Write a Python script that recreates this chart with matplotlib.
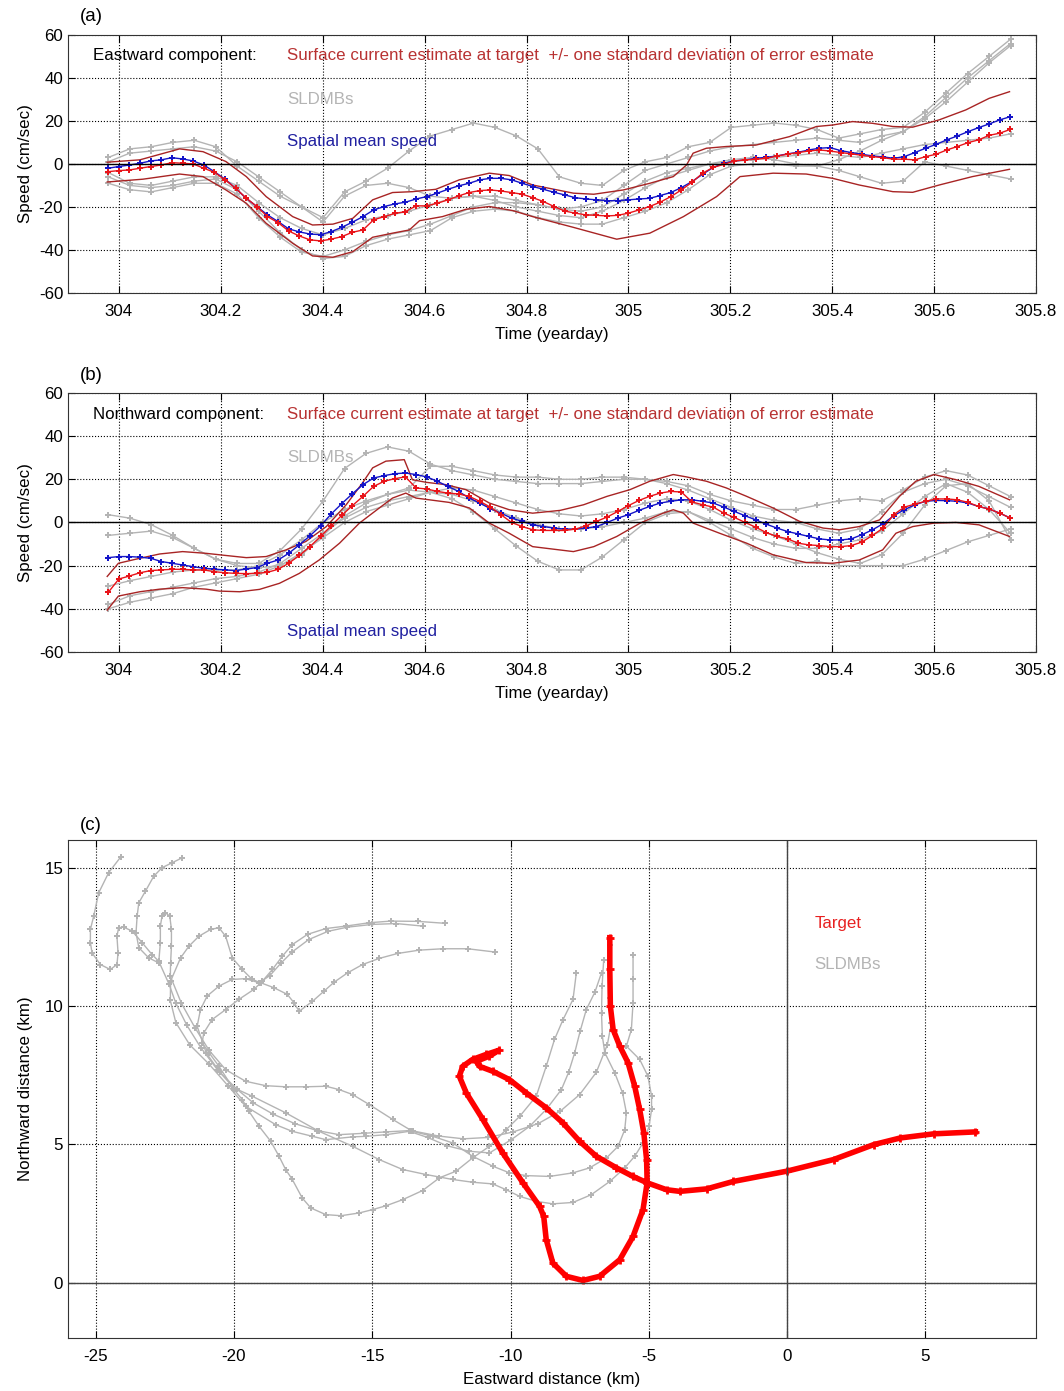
import numpy as np
import matplotlib
matplotlib.use("Agg")
import matplotlib.pyplot as plt

plt.rcParams['font.family'] = ['Liberation Sans', 'DejaVu Sans']
plt.rcParams['font.size'] = 12.2
plt.rcParams['axes.unicode_minus'] = False

# ---- time axes (yearday) ----
t_start = 303.979
t_step = 1 / 48
t_gray = np.linspace(303.979, 305.75, 43)

# ---- panel (a): eastward component ----
a_est = [-3.6, -3.1, -2.8, -2.0, -1.2, -0.5, 0.6, 0.3, 0.0, -2.0,
         -3.9, -7.4, -11.3, -15.9, -19.8, -24.5, -27.3, -31.2, -33.5, -35.3,
         -35.8, -35.0, -33.8, -31.8, -30.7, -26.0, -24.5, -23.0, -22.2, -19.5,
         -19.5, -18.3, -16.7, -14.9, -13.3, -12.4, -12.1, -12.6, -13.3, -14.1,
         -15.7, -17.5, -19.8,
         -21.9, -22.9, -23.7, -23.9, -24.2, -23.9, -22.9, -21.4, -19.8, -17.8,
         -15.2, -12.1, -8.5, -4.3, -1.6, -0.2, 1.4, 1.9, 2.2, 2.6,
         3.7, 4.5, 5.3, 6.0, 6.5, 6.0, 5.3, 4.7, 4.0, 3.4,
         2.9, 2.2, 2.2, 1.9, 3.4, 4.5, 6.5, 8.1, 9.9, 11.2,
         13.3, 14.3, 16.1]
a_mean = [-2.0, -1.2, -0.5, 0.3, 1.4, 1.9, 2.9, 2.3, 1.4, -0.5,
          -3.6, -7.1, -11.3, -16.0, -19.8, -23.7, -26.8, -30.2, -31.6, -32.6,
          -32.9, -31.5, -29.5, -27.1, -24.5, -21.4, -19.8, -18.6, -17.8, -16.3,
          -15.2, -13.6, -11.8, -10.2, -9.0, -7.4, -6.7, -6.7, -7.4, -9.0,
          -10.5, -11.8, -13.2,
          -14.4, -15.7, -16.3, -16.7, -17.1, -17.1, -16.7, -16.3, -16.0, -14.7,
          -13.3, -11.0, -8.2, -4.8, -1.6, 0.3, 1.4, 1.9, 2.6, 3.1,
          3.7, 4.7, 5.4, 6.5, 7.3, 7.6, 6.2, 5.3, 4.5, 3.7,
          3.3, 2.6, 3.4, 5.3, 7.3, 9.1, 11.2, 13.0, 15.0, 16.9,
          18.6, 20.5, 22.0]
a_up_t = [303.977, 304.041, 304.119, 304.165, 304.210, 304.250, 304.289, 304.341,
          304.380, 304.420, 304.459, 304.498, 304.537, 304.576, 304.622, 304.668,
          304.727, 304.766, 304.812, 304.892, 304.932, 304.990, 305.042, 305.088,
          305.114, 305.127, 305.153, 305.192, 305.251, 305.316, 305.369, 305.401,
          305.440, 305.479, 305.519, 305.558, 305.610, 305.662, 305.708, 305.748]
a_up = [0.8, 1.9, 7.0, 5.7, 1.1, -5.9, -15.2, -24.5,
        -28.4, -28.0, -25.3, -16.7, -13.3, -12.9, -11.8, -7.4,
        -4.3, -5.4, -9.8, -13.6, -14.1, -12.1, -9.0, -5.9,
        -0.5, 5.0, 7.3, 8.1, 8.8, 12.7, 17.4, 18.1,
        19.7, 18.9, 17.4, 17.1, 20.5, 25.1, 30.5, 33.6]
a_lo_t = [303.977, 304.047, 304.119, 304.165, 304.210, 304.250, 304.289, 304.341,
          304.380, 304.420, 304.459, 304.498, 304.537, 304.570, 304.590, 304.635,
          304.681, 304.727, 304.773, 304.812, 304.892, 304.977, 305.042, 305.108,
          305.173, 305.219, 305.284, 305.349, 305.401, 305.453, 305.519, 305.558,
          305.610, 305.675, 305.748]
a_lo = [-8.4, -7.1, -4.7, -5.9, -12.1, -18.3, -27.6, -36.9,
        -42.8, -43.4, -40.8, -34.1, -32.2, -30.7, -26.4, -24.5,
        -21.1, -19.8, -21.7, -24.5, -29.5, -35.0, -32.2, -24.5,
        -15.2, -5.9, -4.3, -4.7, -6.7, -9.8, -12.9, -13.2,
        -9.8, -5.9, -2.5]
a_sldmb = [
    [3, 7, 8, 10, 11, 8, -1, -8, -15, -20, -25, -13, -8, -2, 6, 13, 16, 19, 17, 13,
     7, -6, -9, -10, -3, 1, 3, 8, 10, 17, 18, 19, 18, 16, 12, 14, 16, 17, 24, 33,
     42, 50, 58],
    [1, 5, 6, 7, 8, 6, 1, -6, -13, -20, -27, -15, -10, -9, -11, -15, -16, -15, -15, -17,
     -19, -21, -20, -17, -10, -3, 0, 3, 6, 8, 9, 10, 11, 12, 11, 10, 13, 15, 21, 29,
     38, 47, 55],
    [-6, -10, -11, -10, -8, -7, -12, -22, -32, -40, -44, -43, -38, -35, -33, -31, -25, -22, -21, -22,
     -25, -27, -28, -28, -25, -22, -18, -12, -5, -1, 0, 0, -1, -1, 2, 6, 11, 15, 22, 31,
     40, 48, 56],
    [-9, -12, -13, -11, -9, -9, -14, -25, -34, -41, -43, -40, -36, -33, -31, -28, -24, -20, -18, -18,
     -19, -21, -22, -20, -14, -8, -4, -2, 0, 1, 2, 3, 4, 5, 4, 3, 5, 7, 9, 10,
     11, 12, 14],
    [-4, -9, -10, -8, -6, -6, -10, -18, -25, -30, -33, -30, -26, -24, -22, -19, -16, -15, -17, -20,
     -22, -24, -25, -22, -17, -11, -6, -3, 0, 2, 3, 2, 0, -1, -3, -6, -9, -8, 1, -1,
     -3, -5, -7],
]

# ---- panel (b): northward component ----
b_est = [-32.4, -26.2, -24.8, -23.3, -22.3, -22.0, -21.7, -21.7, -22.0, -22.0,
         -22.8, -23.3, -23.6, -23.7, -23.6, -23.1, -21.7, -18.9, -15.3, -11.2,
         -6.5, -1.6, 3.3, 7.8, 12.1, 16.7, 19.1, 20.3, 21.1, 16.0,
         15.5, 14.4, 13.6, 13.2, 12.1, 9.8, 7.1, 3.6, 0.0, -1.9,
         -3.4, -3.7, -3.7,
         -3.7, -3.1, -1.6, 0.5, 2.5, 5.1, 7.8, 10.2, 12.1, 13.6,
         14.4, 14.1, 9.5, 8.2, 7.1, 4.3, 2.3, 0.0, -2.2, -4.7,
         -6.5, -7.6, -9.6, -10.4, -10.7, -11.2, -11.2, -10.7, -9.1, -6.0,
         -2.6, 3.6, 7.1, 8.5, 9.8, 10.9, 10.9, 10.5, 9.3, 7.4,
         6.2, 4.3, 2.0]
b_mean = [-16.3, -15.8, -15.8, -16.1, -16.6, -18.1, -18.9, -19.7, -20.5, -21.2,
          -21.6, -22.0, -22.3, -21.6, -20.9, -18.9, -17.4, -14.3, -10.4, -6.2,
          -1.6, 3.9, 8.7, 13.3, 17.5, 20.6, 21.7, 22.6, 22.9, 22.2,
          21.1, 19.1, 16.7, 14.4, 11.3, 9.0, 6.4, 4.3, 2.0, 0.5,
          -1.1, -1.9, -2.6,
          -3.1, -3.1, -2.6, -1.9, 0.0, 2.0, 3.6, 5.6, 7.4, 9.0,
          9.8, 10.5, 10.5, 9.8, 9.0, 7.1, 5.1, 3.1, 1.2, -0.8,
          -2.6, -4.2, -5.3, -6.5, -7.6, -8.1, -8.1, -7.6, -5.7, -3.4,
          -0.6, 3.1, 5.9, 8.2, 9.8, 10.2, 10.1, 9.8, 9.0, 7.4,
          6.2, 4.3, 2.0]
b_up_t = [303.977, 303.999, 304.041, 304.080, 304.125, 304.171, 304.210, 304.250,
          304.289, 304.328, 304.367, 304.407, 304.446, 304.478, 304.498, 304.524,
          304.560, 304.576, 304.603, 304.642, 304.681, 304.727, 304.766, 304.812,
          304.866, 304.912, 304.958, 305.003, 305.042, 305.088, 305.114, 305.153,
          305.192, 305.232, 305.284, 305.336, 305.382, 305.414, 305.453, 305.493,
          305.532, 305.564, 305.600, 305.643, 305.688, 305.748]
b_up = [-25.0, -18.9, -16.6, -14.6, -13.5, -14.3, -15.3, -16.3,
        -15.8, -12.7, -8.8, -1.9, 8.2, 18.3, 25.3, 28.4,
        29.1, 19.8, 18.6, 17.5, 15.2, 9.0, 5.9, 4.3,
        5.6, 8.2, 12.1, 15.2, 19.1, 22.2, 21.1, 19.1,
        16.0, 12.1, 6.7, 0.5, -2.6, -3.4, -1.9, 1.2,
        12.1, 19.1, 22.2, 19.8, 16.7, 10.5]
b_lo_t = [303.977, 303.999, 304.041, 304.080, 304.125, 304.171, 304.197, 304.237,
          304.276, 304.315, 304.354, 304.393, 304.433, 304.472, 304.511, 304.537,
          304.563, 304.583, 304.609, 304.648, 304.688, 304.727, 304.766, 304.812,
          304.892, 304.932, 304.977, 305.023, 305.068, 305.088, 305.108, 305.127,
          305.179, 305.232, 305.284, 305.349, 305.401, 305.453, 305.499, 305.525,
          305.558, 305.600, 305.643, 305.688, 305.748]
b_lo = [-40.6, -34.1, -32.1, -30.9, -30.2, -30.9, -31.8, -32.1,
        -31.0, -28.2, -23.6, -17.4, -9.6, -0.3, 6.7, 11.3,
        13.6, 11.3, 10.5, 9.3, 6.7, -0.3, -5.0, -11.2,
        -13.5, -11.2, -6.5, -0.3, 4.3, 5.9, 4.3, -0.3,
        -5.0, -9.6, -15.0, -18.6, -18.9, -17.4, -12.7, -5.0,
        -1.9, -0.3, 0.0, -1.1, -6.5]
b_sldmb = [
    [3.6, 2, -1, -6, -12, -17, -19, -19, -13, -3, 10, 25, 32, 35, 33, 27, 24, 22, 20, 19,
     18, 18, 18, 19, 20, 20, 19, 17, 13, 10, 8, 6, 6, 8, 10, 11, 10, 15, 21, 24,
     22, 17, 12],
    [-6, -5, -4, -7, -12, -17, -20, -21, -20, -15, -6, 3, 9, 13, 16, 26, 26, 24, 22, 21,
     21, 20, 20, 21, 21, 20, 18, 15, 11, 7, 3, 1, 0, -3, -5, -3, 5, 14, 18, 20,
     17, 12, 7],
    [-29.5, -27, -25, -23, -22, -22, -22, -20, -15, -8, 0, 6, 10, 13, 15, 14, 11, 5, -3, -11,
     -18, -22, -22, -16, -8, 0, 4, 5, 0, -6, -12, -16, -19, -18, -20, -20, -20, -20, -17, -13,
     -9, -6, -3],
    [-38, -34, -32, -30, -28, -26, -25, -23, -19, -12, -5, 2, 7, 10, 12, 14, 13, 10, 6, 2,
     -1, -3, -3, -2, 0, 2, 5, 5, 1, -3, -7, -10, -12, -12, -10, -8, -4, 4, 12, 18,
     14, 6, -5],
    [-40, -37, -35, -33, -30, -28, -26, -24, -20, -14, -7, 0, 5, 8, 11, 14, 16, 15, 12, 9,
     6, 4, 3, 4, 6, 9, 11, 10, 6, 1, -3, -6, -10, -14, -17, -19, -15, -5, 8, 17,
     18, 10, -8],
]

# ---- panel (c): trajectories (km) ----
target_x = [-6.41, -6.41, -6.39, -6.29, -6.05, -5.75, -5.51, -5.33, -5.18, -5.08,
            -5.06, -5.21, -5.57, -6.05, -6.78, -7.38, -7.98, -8.47, -8.71, -8.80,
            -8.95, -9.55, -10.28, -11.0, -11.60, -11.85, -11.73, -11.37, -10.88, -10.42,
            -10.76, -11.24, -11.12, -10.64, -10.04, -9.43, -8.71, -8.11, -7.50, -6.90,
            -6.17, -5.57, -5.06, -4.36, -3.88, -2.91, -1.94, -0.01, 1.68, 3.13,
            4.09, 5.30, 6.81]
target_y = [12.47, 11.32, 9.99, 9.15, 8.55, 7.95, 7.10, 6.26, 5.41, 4.45,
            3.61, 2.64, 1.67, 0.83, 0.23, 0.08, 0.23, 0.71, 1.56, 2.40,
            2.76, 3.61, 4.69, 5.90, 6.86, 7.46, 7.82, 8.07, 8.25, 8.40,
            8.19, 8.00, 7.82, 7.64, 7.34, 6.86, 6.32, 5.78, 5.11, 4.57,
            4.15, 3.84, 3.61, 3.36, 3.30, 3.39, 3.66, 4.03, 4.45, 4.99,
            5.23, 5.38, 5.45]

drift1 = [(-5.57, 11.86), (-5.57, 10.96), (-5.57, 10.12), (-5.63, 9.15), (-5.81, 8.55),
          (-5.33, 8.07), (-5.03, 7.46), (-4.90, 6.74), (-4.90, 6.26), (-4.99, 5.65),
          (-5.21, 5.05), (-5.51, 4.57), (-5.87, 4.15), (-6.41, 3.66), (-7.08, 3.18),
          (-7.74, 2.90), (-8.47, 2.85), (-9.07, 2.94), (-9.67, 3.12), (-10.16, 3.36),
          (-10.64, 3.57), (-11.37, 3.63), (-12.09, 3.73), (-13.06, 3.91), (-13.90, 4.09),
          (-14.75, 4.45), (-15.71, 4.93), (-16.92, 5.47), (-18.13, 6.14), (-19.34, 6.74),
          (-20.0, 7.04), (-20.6, 7.7), (-21.2, 8.5), (-21.7, 9.3), (-22.1, 10.1),
          (-22.35, 10.8), (-22.72, 11.62), (-22.96, 11.86), (-23.32, 12.29), (-23.68, 12.71),
          (-23.99, 12.85), (-24.17, 12.83), (-24.23, 12.52), (-24.19, 11.92), (-24.23, 11.50),
          (-24.47, 11.32), (-24.83, 11.50), (-25.13, 11.92), (-25.19, 12.29), (-25.19, 12.77),
          (-25.07, 13.25), (-24.89, 14.09), (-24.53, 14.82), (-24.1, 15.38)]
drift2 = [(-6.63, 11.68), (-6.69, 10.72), (-6.71, 9.75), (-6.68, 8.91), (-6.59, 8.31),
          (-6.23, 7.58), (-5.95, 6.86), (-5.81, 6.14), (-5.87, 5.53), (-6.11, 4.93),
          (-6.53, 4.51), (-7.14, 4.15), (-7.74, 3.97), (-8.59, 3.84), (-9.43, 3.87),
          (-10.04, 3.97), (-10.64, 4.21), (-11.37, 4.57), (-12.09, 5.05), (-12.81, 5.29),
          (-13.54, 5.47), (-14.26, 5.90), (-15.11, 6.44), (-15.71, 6.80), (-16.2, 6.98),
          (-16.68, 7.10), (-17.40, 7.08), (-18.13, 7.08), (-18.85, 7.12), (-19.58, 7.28),
          (-20.3, 7.7), (-20.9, 8.4), (-21.4, 9.2), (-21.9, 10.1), (-22.3, 11.08),
          (-22.29, 11.56), (-22.26, 12.16), (-22.26, 12.77), (-22.32, 13.25), (-22.48, 13.37),
          (-22.6, 13.25), (-22.66, 12.89), (-22.66, 12.29), (-22.72, 11.56), (-23.08, 11.74),
          (-23.44, 12.11), (-23.54, 12.65), (-23.5, 13.25), (-23.44, 13.73), (-23.2, 14.15),
          (-22.9, 14.69), (-22.6, 15.0), (-22.23, 15.18), (-21.87, 15.36)]
drift3 = [(-6.71, 11.20), (-6.95, 10.5), (-7.26, 9.87), (-7.48, 9.1), (-7.68, 8.31),
          (-7.9, 7.6), (-8.16, 6.98), (-8.71, 6.26), (-9.31, 5.65), (-9.97, 5.17),
          (-10.76, 4.69), (-11.5, 4.75), (-12.3, 4.95), (-13.0, 5.25), (-13.66, 5.47),
          (-14.50, 5.35), (-15.23, 5.29), (-15.71, 5.27), (-16.68, 5.17), (-17.16, 5.29),
          (-17.89, 5.47), (-18.49, 5.71), (-19.58, 6.38), (-20.2, 7.1), (-20.9, 7.9),
          (-21.6, 8.6), (-22.1, 9.4), (-22.3, 10.2), (-22.29, 10.9), (-21.93, 11.74),
          (-21.63, 12.16), (-21.27, 12.52), (-20.84, 12.77), (-20.54, 12.83), (-20.30, 12.52),
          (-20.06, 11.74), (-19.70, 11.32), (-19.34, 10.96), (-19.03, 10.84), (-18.55, 10.66),
          (-18.07, 10.42), (-17.83, 10.12), (-17.64, 9.81), (-17.16, 10.17), (-16.74, 10.54),
          (-16.38, 10.86), (-15.89, 11.2), (-15.35, 11.50), (-14.75, 11.72), (-14.08, 11.90),
          (-13.30, 12.02), (-12.45, 12.07), (-11.55, 12.07), (-10.55, 11.95)]
drift4 = [(-7.62, 11.2), (-7.74, 10.24), (-8.1, 9.51), (-8.41, 8.79), (-8.71, 7.82),
          (-9.07, 6.74), (-9.67, 6.01), (-10.16, 5.53), (-10.76, 4.93), (-11.37, 4.51),
          (-11.97, 4.03), (-12.57, 3.79), (-13.18, 3.33), (-13.90, 3.00), (-14.50, 2.78),
          (-14.99, 2.64), (-15.47, 2.52), (-16.13, 2.42), (-16.68, 2.46), (-17.22, 2.70),
          (-17.53, 3.06), (-17.89, 3.73), (-18.13, 4.09), (-18.37, 4.57), (-18.67, 5.11),
          (-19.09, 5.65), (-19.46, 6.20), (-19.70, 6.62), (-20.0, 6.98), (-20.54, 7.82),
          (-20.9, 8.31), (-21.15, 8.67), (-21.09, 9.03), (-20.79, 9.51), (-20.30, 9.87),
          (-19.82, 10.24), (-19.28, 10.60), (-18.97, 10.90), (-18.61, 11.32), (-18.25, 11.80),
          (-17.89, 12.22), (-17.34, 12.59), (-16.68, 12.80), (-15.95, 12.89), (-15.11, 13.01),
          (-14.33, 13.07), (-13.36, 13.06), (-12.37, 12.99)]
drift5 = [(-6.42, 12.2), (-6.4, 11.3), (-6.39, 10.3), (-6.35, 9.4), (-6.5, 8.6),
          (-6.9, 7.6), (-7.5, 6.8), (-8.2, 6.2), (-9.0, 5.75), (-9.9, 5.45),
          (-10.8, 5.25), (-11.7, 5.2), (-12.6, 5.3), (-13.6, 5.5), (-14.5, 5.45),
          (-15.3, 5.4), (-16.2, 5.35), (-17.0, 5.5), (-17.8, 5.75), (-18.6, 6.1),
          (-19.3, 6.5), (-19.9, 7.0), (-20.5, 7.6), (-21.0, 8.3), (-21.33, 9.27),
          (-21.21, 9.87), (-20.97, 10.36), (-20.54, 10.72), (-20.06, 10.96), (-19.58, 10.99),
          (-19.09, 10.84), (-18.7, 11.1), (-18.3, 11.55), (-17.9, 11.95), (-17.3, 12.4),
          (-16.6, 12.7), (-15.9, 12.85), (-15.0, 12.95), (-14.13, 12.98), (-13.18, 12.89)]
drifters = [drift1, drift2, drift3, drift4, drift5]

red = '#e8141a'
blue = '#1414c8'
bound = '#a82424'
gray = '#b4b4b4'
label_red = '#b83232'
fs = 12.2


def style_axes(ax):
    ax.grid(True, linestyle=':', color='black', linewidth=0.8)
    ax.tick_params(direction='in', top=True, right=True, length=5, labelsize=fs)
    ax.tick_params(axis='x', pad=8)
    for s in ax.spines.values():
        s.set_color('#333333')


def speed_panel(ax, est, mean, up_t, up, lo_t, lo, sldmbs, comp, mean_y):
    t_est = t_start + t_step * np.arange(len(est))
    t_mean = t_start + t_step * np.arange(len(mean))
    for s in sldmbs:
        ax.plot(t_gray, s, color=gray, lw=1, marker='P', ms=4.5, mew=0)
    ax.plot(up_t, up, color=bound, lw=1)
    ax.plot(lo_t, lo, color=bound, lw=1)
    ax.plot(t_mean, mean, color=blue, lw=1, marker='P', ms=4.5, mew=0)
    ax.plot(t_est, est, color=red, lw=1, marker='P', ms=4.5, mew=0)
    ax.axhline(0, color='black', lw=1)
    ax.set_xlim(303.9, 305.8)
    ax.set_ylim(-60, 60)
    ax.set_xticks([304, 304.2, 304.4, 304.6, 304.8, 305, 305.2, 305.4, 305.6, 305.8])
    ax.set_xticklabels(['304', '304.2', '304.4', '304.6', '304.8', '305',
                        '305.2', '305.4', '305.6', '305.8'])
    ax.set_yticks(np.arange(-60, 61, 20))
    ax.set_xlabel('Time (yearday)', fontsize=fs, labelpad=6)
    ax.set_ylabel('Speed (cm/sec)', fontsize=fs)
    style_axes(ax)
    ax.text(303.949, 50.2, comp, color='black', va='center', fontsize=fs)
    ax.text(304.33, 50.2, 'Surface current estimate at target  +/- one standard deviation of error estimate',
            color=label_red, va='center', fontsize=fs)
    ax.text(304.33, 30.0, 'SLDMBs', color=gray, va='center', fontsize=fs)
    ax.text(304.33, mean_y, 'Spatial mean speed', color='#2020a0', va='center', fontsize=fs)


fig = plt.figure(figsize=(10.64, 13.91), dpi=100)
ax_a = fig.add_axes([0.0639, 0.7894, 0.9098, 0.1855])
ax_b = fig.add_axes([0.0639, 0.5313, 0.9098, 0.1862])
ax_c = fig.add_axes([0.0639, 0.0381, 0.9098, 0.3580])

speed_panel(ax_a, a_est, a_mean, a_up_t, a_up, a_lo_t, a_lo, a_sldmb,
            'Eastward component:', 10.2)
speed_panel(ax_b, b_est, b_mean, b_up_t, b_up, b_lo_t, b_lo, b_sldmb,
            'Northward component:', -50.7)

for d in drifters:
    xs, ys = zip(*d)
    ax_c.plot(xs, ys, color=gray, lw=1, marker='P', ms=4.5, mew=0)
ax_c.plot(target_x, target_y, color='#ff0000', lw=4, marker='+', ms=6, mew=2)
ax_c.axhline(0, color='#444444', lw=1)
ax_c.axvline(0, color='#444444', lw=1)
ax_c.set_xlim(-26, 9)
ax_c.set_ylim(-2, 16)
ax_c.set_xticks(np.arange(-25, 6, 5))
ax_c.set_yticks([0, 5, 10, 15])
ax_c.set_xlabel('Eastward distance (km)', fontsize=fs, labelpad=6)
ax_c.set_ylabel('Northward distance (km)', fontsize=fs, labelpad=8)
style_axes(ax_c)
ax_c.text(1.0, 13.0, 'Target', color='#e82020', va='center', fontsize=fs)
ax_c.text(1.0, 11.5, 'SLDMBs', color=gray, va='center', fontsize=fs)

fig.text(0.075, 0.9878, '(a)', va='center', fontsize=13.5)
fig.text(0.075, 0.7304, '(b)', va='center', fontsize=13.5)
fig.text(0.075, 0.4069, '(c)', va='center', fontsize=13.5)

fig.savefig('out.png', dpi=100)
